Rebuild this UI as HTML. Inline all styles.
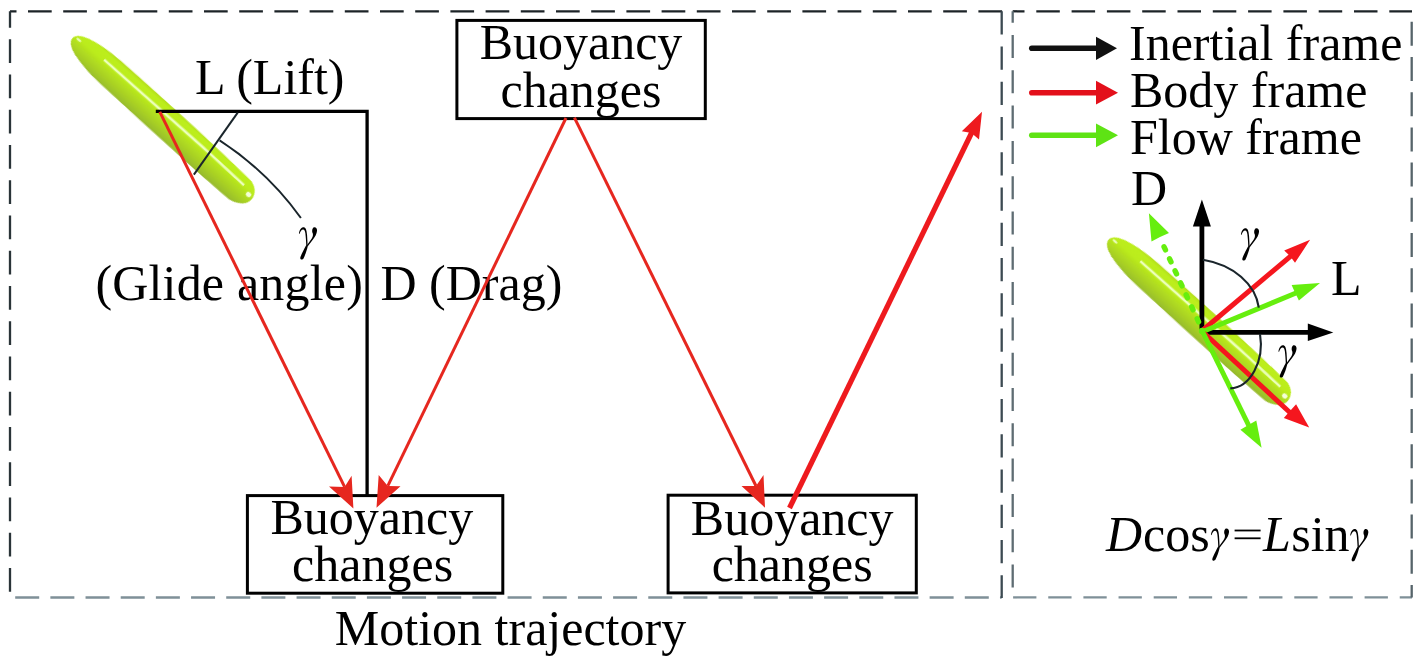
<!DOCTYPE html>
<html><head><meta charset="utf-8">
<style>
html,body{margin:0;padding:0;background:#fff;}
body{width:1419px;height:661px;overflow:hidden;}
svg{display:block;}
text{font-family:"Liberation Serif",serif;fill:#000;}
</style></head>
<body>
<svg width="1419" height="661" viewBox="0 0 1419 661">
<defs>
  <linearGradient id="gb" gradientUnits="userSpaceOnUse" x1="0" y1="-15.5" x2="0" y2="17">
    <stop offset="0" stop-color="#b2dc1c"/>
    <stop offset="0.12" stop-color="#bcee1a"/>
    <stop offset="0.35" stop-color="#bbec1b"/>
    <stop offset="0.5" stop-color="#b3e01f"/>
    <stop offset="0.72" stop-color="#a8d024"/>
    <stop offset="0.9" stop-color="#9cc22a"/>
    <stop offset="1" stop-color="#96b82e"/>
  </linearGradient>
  <filter id="soft2" x="-20%" y="-100%" width="140%" height="300%"><feGaussianBlur stdDeviation="0.7"/></filter>
  <filter id="soft" x="-10%" y="-50%" width="120%" height="200%"><feGaussianBlur stdDeviation="0.45"/></filter>
  
  
</defs>

<!-- dashed frames -->
<g fill="none" stroke-width="2.3">
  <path d="M10 11.3 H1002.3" stroke="#1c2327" stroke-dasharray="23.7 11.5" stroke-dashoffset="17.2"/>
  <path d="M10 11.3 V597" stroke="#2a3438" stroke-dasharray="23.75 11.5" stroke-dashoffset="7.25"/>
  <path d="M15.2 597.5 H1001.7" stroke="#7f9098" stroke-dasharray="24 11.17"/>
  <path d="M1001.7 11.3 V598" stroke="#3c4a52" stroke-dasharray="23.3 11.95"/>
  <path d="M1012.7 11.3 H1412" stroke="#1c2327" stroke-dasharray="23.5 11.8" stroke-dashoffset="11.7"/>
  <path d="M1012.7 11.3 V597.4" stroke="#5e6c72" stroke-dasharray="23 12.3" stroke-dashoffset="11.6"/>
  <path d="M1013.1 597.4 H1412" stroke="#7f9098" stroke-dasharray="23.3 11.85"/>
  <path d="M1411.7 21.8 V597.4" stroke="#56646a" stroke-dasharray="24 11.2"/>
</g>

<!-- left glider -->
<g transform="translate(72.4 38.2) rotate(41.6)">
    <path d="M0 0 C 0 -8, 16 -14.5, 52 -15.2 C 110 -15.5, 170 -14.8, 229 -12 C 236 -10, 241 -5, 241 1.5 C 241 8, 236 14, 224 16.5 C 170 17.5, 110 16.5, 52 15.5 C 16 14.5, 0 8, 0 0 Z" fill="url(#gb)" filter="url(#soft)"/>
    <path d="M38 -5 L 170 -5.2 L 226 -4" stroke="#ecffbc" stroke-width="2.6" fill="none" filter="url(#soft2)"/>
    <ellipse cx="235.5" cy="0" rx="2.8" ry="2.4" fill="#f4ffd8" filter="url(#soft)"/>
    <ellipse cx="6" cy="-3" rx="3" ry="1.3" fill="#f0ffd0" opacity="0.85" filter="url(#soft)"/>
  </g>

<!-- boxes -->
<g fill="#fff" stroke="#000" stroke-width="3">
  <rect x="456.9" y="20.4" width="248.4" height="98.2"/>
  <rect x="247.4" y="495.6" width="255.4" height="97.6"/>
  <rect x="668.1" y="495.2" width="248.2" height="97.7"/>
</g>

<!-- texts left -->
<g font-size="50">
  <text id="tb1" x="581" y="59.3" text-anchor="middle">Buoyancy</text>
  <text id="tb2" x="581" y="107" text-anchor="middle">changes</text>
  <text id="tb3" x="371.8" y="534.4" text-anchor="middle">Buoyancy</text>
  <text id="tb4" x="372.6" y="581.4" text-anchor="middle">changes</text>
  <text id="tb5" x="792.2" y="534.8" text-anchor="middle">Buoyancy</text>
  <text id="tb6" x="792.2" y="581.3" text-anchor="middle">changes</text>
  <text id="tlift" x="195" y="93.6">L (Lift)</text>
  <text id="tglide" x="95.4" y="299.8" textLength="267.4">(Glide angle)</text>
  <text id="tdrag" x="380.5" y="299.8">D (Drag)</text>
  <text id="tmot" x="510.5" y="645.3" text-anchor="middle">Motion trajectory</text>
</g>
<g id="g1" transform="translate(288 215.3)">
    <g transform="scale(0.07564)" fill="#000">
      <path d="M145 240 C 148 205, 168 162, 200 157 C 232 155, 246 185, 252 260 C 256 320, 258 370, 260 405 L 242 405 C 240 350, 236 290, 230 240 C 226 205, 215 187, 200 187 C 180 187, 162 212, 152 248 Z"/>
      <path d="M350 157 C 372 157, 386 178, 384 205 C 381 245, 355 290, 330 320 L 262 410 L 248 400 L 312 310 C 330 280, 332 262, 328 240 C 318 225, 318 205, 322 185 C 328 165, 338 157, 350 157 Z"/>
      <path d="M240 395 L 262 405 C 250 460, 225 530, 205 570 C 195 590, 165 592, 162 568 C 162 545, 200 470, 240 395 Z"/>
    </g>
  </g>

<!-- left frame lines -->
<path d="M155.8 111.4 H367.1 V495" stroke="#000" stroke-width="3.3" fill="none"/>
<path d="M237.7 112.6 L193.9 174.6" stroke="#1a252b" stroke-width="2" fill="none"/>
<path d="M219.6 140.3 A 304 304 0 0 1 300.9 218" stroke="#1a252b" stroke-width="2" fill="none"/>

<!-- red arrows -->
<g stroke="#e6271f" stroke-width="3" fill="none">
  <path d="M159.8 111.8 L344.6 486.9"/>
  <path d="M566 118 L387.8 485.9"/>
  <path d="M574.4 117.6 L756 486"/>
</g>
<g fill="#e6271f">
  <path d="M353.4 508.5 L329 486.6 L344.6 486.9 L351.6 475.7 Z"/>
  <path d="M376.5 507.8 L378.7 475 L387.8 485.9 L400.5 486.2 Z"/>
  <path d="M765 507.7 L741.5 486 L756 486 L763.5 475 Z"/>
</g>
<path d="M789.5 508 L972 132" stroke="#ee1a1e" stroke-width="5.2" fill="none"/>
<path d="M982 111.8 L961.8 131.2 L971.5 133 L979 139.6 Z" fill="#ee1a1e"/>

<!-- legend -->
<g stroke-linecap="round" stroke-width="5.6" fill="none">
  <path d="M1031.8 48.3 H1097" stroke="#111"/>
  <path d="M1031.8 92.8 H1097" stroke="#e3101b"/>
  <path d="M1031.8 135.2 H1097" stroke="#5ee314"/>
</g>
<path d="M1096 36.7 L1117 48.3 L1096 60 Z" fill="#111"/>
<path d="M1096 80.8 L1118 92.8 L1096 104.6 Z" fill="#e3101b"/>
<path d="M1096 123.4 L1118 135.2 L1096 147.2 Z" fill="#5ee314"/>
<g font-size="50">
  <text id="ti" x="1129" y="59.5">Inertial frame</text>
  <text id="tbo" x="1130" y="106.6">Body frame</text>
  <text id="tfl" x="1130" y="153.7">Flow frame</text>
  <text id="tD" x="1131" y="204.7">D</text>
  <text id="tL" x="1331" y="294.5">L</text>
</g>

<!-- right glider -->
<g transform="translate(1108.6 239.7) rotate(41.6)">
    <path d="M0 0 C 0 -8, 16 -14.5, 52 -15.2 C 110 -15.5, 170 -14.8, 229 -12 C 236 -10, 241 -5, 241 1.5 C 241 8, 236 14, 224 16.5 C 170 17.5, 110 16.5, 52 15.5 C 16 14.5, 0 8, 0 0 Z" fill="url(#gb)" filter="url(#soft)"/>
    <path d="M38 -5 L 170 -5.2 L 226 -4" stroke="#ecffbc" stroke-width="2.6" fill="none" filter="url(#soft2)"/>
    <ellipse cx="235.5" cy="0" rx="2.8" ry="2.4" fill="#f4ffd8" filter="url(#soft)"/>
    <ellipse cx="6" cy="-3" rx="3" ry="1.3" fill="#f0ffd0" opacity="0.85" filter="url(#soft)"/>
  </g>

<!-- right arrows -->
<g fill="none" stroke-width="5">
  <path d="M1201.9 330 V222" stroke="#000" stroke-width="4.8"/>
  <path d="M1204 332.4 H1310" stroke="#000" stroke-width="4.7"/>
  <path d="M1203 330 L1292 255" stroke="#f5161e"/>
  <path d="M1203 331.5 L1296 293" stroke="#66ee0e"/>
  <path d="M1204 333 L1291 413.5" stroke="#f5161e"/>
  <path d="M1202.5 331.5 L1249.5 427" stroke="#66ee0e"/>
  <path d="M1200.5 326 L1160 238" stroke="#66ee0e" stroke-width="5.4" stroke-dasharray="3.4 9.8" stroke-dashoffset="-4.6" stroke-linecap="round"/>
</g>
<circle cx="1202" cy="331" r="3.2" fill="#66ee0e"/>
<g>
  <path d="M1201.9 199.6 L1210.9 226.6 L1192.9 226.6 Z" fill="#000"/>
  <path d="M1333.3 332.4 L1307.8 341 L1307.8 323.4 Z" fill="#000"/>
  <path d="M1310.1 239.7 L1295 262.8 L1290 256 L1284.2 250.5 Z" fill="#f5161e"/>
  <path d="M1320 282.9 L1298.9 300.6 L1295 292.5 L1291.6 284.9 Z" fill="#66ee0e"/>
  <path d="M1309.2 427.6 L1283.8 418 L1290 411 L1296.1 404.3 Z" fill="#f5161e"/>
  <path d="M1261.6 447.7 L1240.4 429.7 L1248.5 425 L1256.3 420.6 Z" fill="#66ee0e"/>
  <path d="M1148.9 213.2 L1169 233 L1160 237 L1151.5 241.5 Z" fill="#66ee0e"/>
</g>
<g stroke="#1a252b" stroke-width="2.1" fill="none">
  <path d="M1202.9 259.7 A 71 54.7 0 0 1 1258.8 307.7"/>
  <path d="M1260 334 A 31.7 44.3 0 0 1 1230.3 388.4"/>
</g>
<g id="g2" transform="translate(1230 216.3)">
    <g transform="scale(0.07564)" fill="#000">
      <path d="M145 240 C 148 205, 168 162, 200 157 C 232 155, 246 185, 252 260 C 256 320, 258 370, 260 405 L 242 405 C 240 350, 236 290, 230 240 C 226 205, 215 187, 200 187 C 180 187, 162 212, 152 248 Z"/>
      <path d="M350 157 C 372 157, 386 178, 384 205 C 381 245, 355 290, 330 320 L 262 410 L 248 400 L 312 310 C 330 280, 332 262, 328 240 C 318 225, 318 205, 322 185 C 328 165, 338 157, 350 157 Z"/>
      <path d="M240 395 L 262 405 C 250 460, 225 530, 205 570 C 195 590, 165 592, 162 568 C 162 545, 200 470, 240 395 Z"/>
    </g>
  </g>
<g id="g3" transform="translate(1267.5 333.3)">
    <g transform="scale(0.07564)" fill="#000">
      <path d="M145 240 C 148 205, 168 162, 200 157 C 232 155, 246 185, 252 260 C 256 320, 258 370, 260 405 L 242 405 C 240 350, 236 290, 230 240 C 226 205, 215 187, 200 187 C 180 187, 162 212, 152 248 Z"/>
      <path d="M350 157 C 372 157, 386 178, 384 205 C 381 245, 355 290, 330 320 L 262 410 L 248 400 L 312 310 C 330 280, 332 262, 328 240 C 318 225, 318 205, 322 185 C 328 165, 338 157, 350 157 Z"/>
      <path d="M240 395 L 262 405 C 250 460, 225 530, 205 570 C 195 590, 165 592, 162 568 C 162 545, 200 470, 240 395 Z"/>
    </g>
  </g>

<!-- equation -->
<g font-size="50">
  <text id="eD" x="1106" y="550.7" font-style="italic">D</text>
  <text id="ecos" x="1143" y="550.7">cos</text>
  
  <text id="eL" x="1263" y="550.7" font-style="italic">L</text>
  <text id="esin" x="1291.2" y="550.7">sin</text>
</g>
<rect id="eeq" x="1234.6" y="529.6" width="26" height="1.8"/>
<rect x="1234.6" y="537.4" width="26" height="1.8"/>
<g id="g4" transform="translate(1200 516.5)">
    <g transform="scale(0.07564)" fill="#000">
      <path d="M145 240 C 148 205, 168 162, 200 157 C 232 155, 246 185, 252 260 C 256 320, 258 370, 260 405 L 242 405 C 240 350, 236 290, 230 240 C 226 205, 215 187, 200 187 C 180 187, 162 212, 152 248 Z"/>
      <path d="M350 157 C 372 157, 386 178, 384 205 C 381 245, 355 290, 330 320 L 262 410 L 248 400 L 312 310 C 330 280, 332 262, 328 240 C 318 225, 318 205, 322 185 C 328 165, 338 157, 350 157 Z"/>
      <path d="M240 395 L 262 405 C 250 460, 225 530, 205 570 C 195 590, 165 592, 162 568 C 162 545, 200 470, 240 395 Z"/>
    </g>
  </g>
<g id="g5" transform="translate(1339.3 517.1)">
    <g transform="scale(0.07564)" fill="#000">
      <path d="M145 240 C 148 205, 168 162, 200 157 C 232 155, 246 185, 252 260 C 256 320, 258 370, 260 405 L 242 405 C 240 350, 236 290, 230 240 C 226 205, 215 187, 200 187 C 180 187, 162 212, 152 248 Z"/>
      <path d="M350 157 C 372 157, 386 178, 384 205 C 381 245, 355 290, 330 320 L 262 410 L 248 400 L 312 310 C 330 280, 332 262, 328 240 C 318 225, 318 205, 322 185 C 328 165, 338 157, 350 157 Z"/>
      <path d="M240 395 L 262 405 C 250 460, 225 530, 205 570 C 195 590, 165 592, 162 568 C 162 545, 200 470, 240 395 Z"/>
    </g>
  </g>
</svg>
</body></html>
